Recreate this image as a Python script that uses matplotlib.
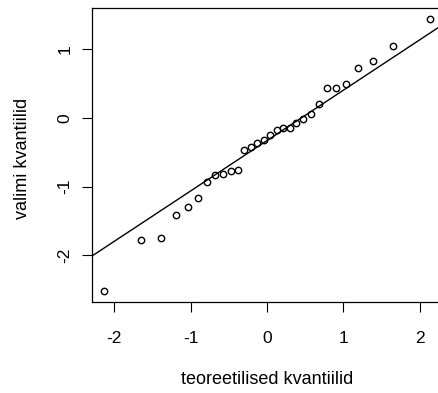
import numpy as np
import matplotlib.pyplot as plt

plt.rcParams['font.family'] = ['Liberation Sans', 'DejaVu Sans']

# teoreetilised kvantiilid (loetud pildilt)
teor = [-2.128, -1.645, -1.383, -1.192, -1.036, -0.903, -0.783, -0.674,
        -0.573, -0.477, -0.385, -0.297, -0.210, -0.126, -0.042,
        0.042, 0.126, 0.210, 0.297, 0.385, 0.477, 0.573, 0.674,
        0.783, 0.903, 1.036, 1.192, 1.383, 1.645, 2.128]
# valimi kvantiilid
valim = [-2.52, -1.78, -1.75, -1.42, -1.29, -1.17, -0.94, -0.83,
         -0.81, -0.78, -0.76, -0.47, -0.42, -0.37, -0.32,
         -0.245, -0.18, -0.14, -0.14, -0.07, -0.02, 0.06, 0.20,
         0.44, 0.44, 0.50, 0.73, 0.83, 1.04, 1.44]
x_ticks = [-2, -1, 0, 1, 2]
y_ticks = [-2, -1, 0, 1]

teor = np.array(teor)
valim = np.array(valim)

# qqline: sirge läbi kvartiilide
q_y = np.percentile(valim, [25, 75])
q_x = np.array([-0.6744898, 0.6744898])
slope = (q_y[1] - q_y[0]) / (q_x[1] - q_x[0])
intercept = q_y[0] - slope * q_x[0]

fig = plt.figure(figsize=(4.39, 3.93), dpi=100)
ax = fig.add_axes([92 / 439, 91 / 393, 350 / 439, 294 / 393])

ax.plot(teor, valim, 'o', mfc='none', mec='black', ms=4.6, mew=1.0)
xx = np.array([-3, 3])
ax.plot(xx, intercept + slope * xx, color='black', lw=1.0)

ax.set_xlim(-2.29, 2.29)
ax.set_ylim(-2.68, 1.60)
ax.set_xticks(x_ticks)
ax.set_yticks(y_ticks)
ax.set_xticklabels([str(t) for t in x_ticks])
ax.set_yticklabels([str(t) for t in y_ticks], rotation=90, va='center')
ax.tick_params(axis='x', direction='out', length=7.2, width=0.8, pad=14, labelsize=12.5)
ax.tick_params(axis='y', direction='out', length=7.2, width=0.8, pad=7, labelsize=12.5)
for s in ax.spines.values():
    s.set_linewidth(0.9)

fig.text(267 / 439, 1 - 380 / 393, 'teoreetilised kvantiilid', ha='center', va='center', fontsize=13)
fig.text(23 / 439, 1 - 158 / 393, 'valimi kvantiilid', ha='center', va='center', rotation=90, fontsize=13)

fig.savefig('out.png', dpi=100)
